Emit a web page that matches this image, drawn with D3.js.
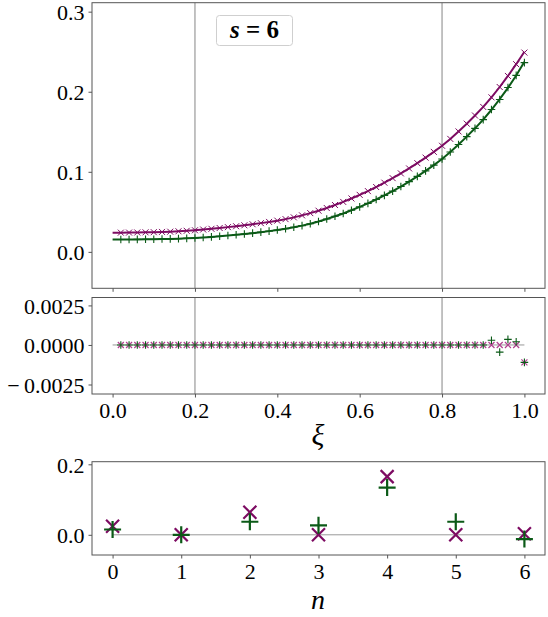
<!DOCTYPE html>
<html><head><meta charset="utf-8">
<script src="https://cdn.jsdelivr.net/npm/d3@7"></script>
<style>
body{margin:0;background:#fff}
text{font-family:"Liberation Serif","Times New Roman",serif;fill:#000}
</style>
</head><body>
<svg id="c" width="548" height="617"></svg>
<script>
// ---------- data ----------
const xiGrid = [0,0.02,0.04,0.06,0.08,0.10,0.12,0.14,0.16,0.18,0.20,
  0.22,0.24,0.26,0.28,0.30,0.32,0.34,0.36,0.38,0.40,
  0.42,0.44,0.46,0.48,0.50,0.52,0.54,0.56,0.58,0.60,
  0.62,0.64,0.66,0.68,0.70,0.72,0.74,0.76,0.78,0.80,
  0.82,0.84,0.86,0.88,0.90,0.92,0.94,0.96,0.98,1.00];
const purpleCurve = [0.0240,0.0240,0.0241,0.0242,0.0244,0.0246,0.0249,0.0252,0.0257,0.0263,0.0270,
  0.0279,0.0288,0.0298,0.0309,0.0320,0.0332,0.0345,0.0359,0.0374,0.0390,
  0.0409,0.0431,0.0456,0.0484,0.0514,0.0548,0.0585,0.0624,0.0667,0.0712,
  0.0759,0.0810,0.0864,0.0921,0.0980,0.1042,0.1108,0.1177,0.1249,0.1325,
  0.1411,0.1504,0.1601,0.1703,0.1810,0.1930,0.2059,0.2197,0.2344,0.2500];
const greenCurve = [0.0155,0.0155,0.0155,0.0156,0.0157,0.0158,0.0160,0.0162,0.0165,0.0169,0.0174,
  0.0180,0.0187,0.0195,0.0204,0.0213,0.0223,0.0234,0.0246,0.0259,0.0273,
  0.0289,0.0307,0.0328,0.0352,0.0379,0.0410,0.0444,0.0480,0.0520,0.0562,
  0.0606,0.0654,0.0705,0.0759,0.0816,0.0877,0.0943,0.1012,0.1084,0.1160,
  0.1247,0.1341,0.1439,0.1543,0.1652,0.1775,0.1907,0.2049,0.2202,0.2375];
// residuals at xi = 0.02 ... 1.00
const greenResid = [0,0,0,0,0,0,0,0,0,0, 0,0,0,0,0,0,0,0,0,0, 0,0,0,0,0,0,0,0,0,0,
  0,0,0,0,0,0,0,0,0,0, 0,0,0,0,0, 0.0003,-0.00045,0.00035,0.0002,-0.0011];
const purpleResid = [0,0,0,0,0,0,0,0,0,0, 0,0,0,0,0,0,0,0,0,0, 0,0,0,0,0,0,0,0,0,0,
  0,0,0,0,0,0,0,0,0,0, 0,0,0,0,0, 0,0,0,0,-0.0011];
const nVals = [0,1,2,3,4,5,6];
const purpleCoef = [0.024,0.0,0.064,0.0,0.165,0.0,0.003];
const greenCoef  = [0.015,0.0,0.037,0.027,0.134,0.037,-0.012];
const topYTicks = [0.0,0.1,0.2,0.3];
const midYTicks = [-0.0025,0.0,0.0025];
const xiTicks = [0.0,0.2,0.4,0.6,0.8,1.0];
const botYTicks = [0.0,0.2];
const vLines = [0.2,0.8];

// ---------- layout ----------
const PURPLE = "#7d0b62", GREEN = "#0b5a17", GRAY = "#a8a8a8", SPINE = "#555";
const L = 92, R = 545;
const svg = d3.select("#c");
const x = d3.scaleLinear().domain([-0.05,1.05]).range([L,R]);
const xn = d3.scaleLinear().domain([-0.3,6.3]).range([L,R]);
const yTop = d3.scaleLinear().domain([-0.0455,0.3112]).range([288.3,2.7]);
const yMid = d3.scaleLinear().domain([-0.0031,0.0030]).range([394,297.5]);
const yBot = d3.scaleLinear().domain([-0.0573,0.2074]).range([555,461.7]);

const fmt2 = d => d3.format(".1f")(d);
const fmt4 = d => (d<0?"\u2212\u2009":"") + d3.format(".4f")(Math.abs(d));

function frame(yS){
  const [b,t] = yS.range();
  svg.append("rect").attr("x",L).attr("y",t).attr("width",R-L).attr("height",b-t)
    .attr("fill","none").attr("stroke",SPINE).attr("stroke-width",1);
}
function yAxis(yS, ticks, f){
  const g = svg.append("g").attr("transform",`translate(${L},0)`)
    .call(d3.axisLeft(yS).tickValues(ticks).tickFormat(f).tickSize(3.5).tickPadding(4));
  g.select(".domain").remove();
  g.selectAll("line").attr("stroke",SPINE);
  g.selectAll("text").style("font-size","22px").attr("fill","#000").attr("dy","0.36em");
}
function xAxis(xS, yPos, ticks, f, labels){
  const g = svg.append("g").attr("transform",`translate(0,${yPos})`)
    .call(d3.axisBottom(xS).tickValues(ticks).tickFormat(labels?f:"").tickSize(3.5).tickPadding(5));
  g.select(".domain").remove();
  g.selectAll("line").attr("stroke",SPINE);
  g.selectAll("text").style("font-size","22px").attr("fill","#000");
}
const xMark = s => `M${-s},${-s}L${s},${s}M${-s},${s}L${s},${-s}`;
const pMark = s => `M${-s},0L${s},0M0,${-s}L0,${s}`;

// ---------- top panel ----------
vLines.forEach(v=>{
  svg.append("line").attr("x1",x(v)).attr("x2",x(v)).attr("y1",2.7).attr("y2",288.3)
    .attr("stroke",GRAY).attr("stroke-width",1.4);
  svg.append("line").attr("x1",x(v)).attr("x2",x(v)).attr("y1",297.5).attr("y2",394)
    .attr("stroke",GRAY).attr("stroke-width",1.4);
});
const line = (ys)=> d3.line().x((d,i)=>x(xiGrid[i])).y(d=>ys(d));
svg.append("path").datum(purpleCurve).attr("d",line(yTop)).attr("fill","none")
  .attr("stroke",PURPLE).attr("stroke-width",2);
svg.append("path").datum(greenCurve).attr("d",line(yTop)).attr("fill","none")
  .attr("stroke",GREEN).attr("stroke-width",2);
const markIdx = d3.range(1, xiGrid.length);
svg.append("g").selectAll("path").data(markIdx).join("path")
  .attr("transform",i=>`translate(${x(xiGrid[i])},${yTop(purpleCurve[i]+purpleResid[i-1])})`)
  .attr("d",xMark(3)).attr("stroke",PURPLE).attr("stroke-width",1).attr("fill","none");
svg.append("g").selectAll("path").data(markIdx).join("path")
  .attr("transform",i=>`translate(${x(xiGrid[i])},${yTop(greenCurve[i]+greenResid[i-1])})`)
  .attr("d",pMark(3.8)).attr("stroke",GREEN).attr("stroke-width",1.1).attr("fill","none");
frame(yTop);
yAxis(yTop, topYTicks, fmt2);
xAxis(x, 288.3, xiTicks, fmt2, false);

// title box
svg.append("rect").attr("x",216.5).attr("y",15.5).attr("width",76).attr("height",30).attr("rx",3)
  .attr("fill","#fff").attr("stroke","#cfcfcf").attr("stroke-width",1);
const tt = svg.append("text").attr("x",254.5).attr("y",38).attr("text-anchor","middle")
  .style("font-size","25px").style("font-weight","bold");
tt.append("tspan").style("font-style","italic").text("s");
tt.append("tspan").text(" = 6");

// ---------- middle panel ----------
svg.append("line").attr("x1",x(0)).attr("x2",x(1)).attr("y1",yMid(0)).attr("y2",yMid(0))
  .attr("stroke","#999").attr("stroke-width",1);
svg.append("g").selectAll("path").data(markIdx).join("path")
  .attr("transform",i=>`translate(${x(xiGrid[i])},${yMid(purpleResid[i-1])})`)
  .attr("d",xMark(3)).attr("stroke","#b0408f").attr("stroke-width",1.2).attr("fill","none");
svg.append("g").selectAll("path").data(markIdx).join("path")
  .attr("transform",i=>`translate(${x(xiGrid[i])},${yMid(greenResid[i-1])})`)
  .attr("d",pMark(3.8)).attr("stroke",GREEN).attr("stroke-width",1.1).attr("fill","none");
frame(yMid);
yAxis(yMid, midYTicks, fmt4);
xAxis(x, 394, xiTicks, fmt2, true);
svg.append("text").attr("x",318).attr("y",445).attr("text-anchor","middle")
  .style("font-size","30px").style("font-style","italic").text("\u03BE");

// ---------- bottom panel ----------
svg.append("line").attr("x1",xn(0)).attr("x2",xn(6)).attr("y1",yBot(0)).attr("y2",yBot(0))
  .attr("stroke","#999").attr("stroke-width",1);
svg.append("g").selectAll("path").data(nVals).join("path")
  .attr("transform",n=>`translate(${xn(n)},${yBot(purpleCoef[n])})`)
  .attr("d",xMark(6.5)).attr("stroke",PURPLE).attr("stroke-width",2.2).attr("fill","none");
svg.append("g").selectAll("path").data(nVals).join("path")
  .attr("transform",n=>`translate(${xn(n)},${yBot(greenCoef[n])})`)
  .attr("d",pMark(8.5)).attr("stroke",GREEN).attr("stroke-width",2.2).attr("fill","none");
frame(yBot);
yAxis(yBot, botYTicks, fmt2);
xAxis(xn, 555, nVals, d=>d, true);
svg.append("text").attr("x",318).attr("y",609).attr("text-anchor","middle")
  .style("font-size","28px").style("font-style","italic").text("n");
</script>
</body></html>
